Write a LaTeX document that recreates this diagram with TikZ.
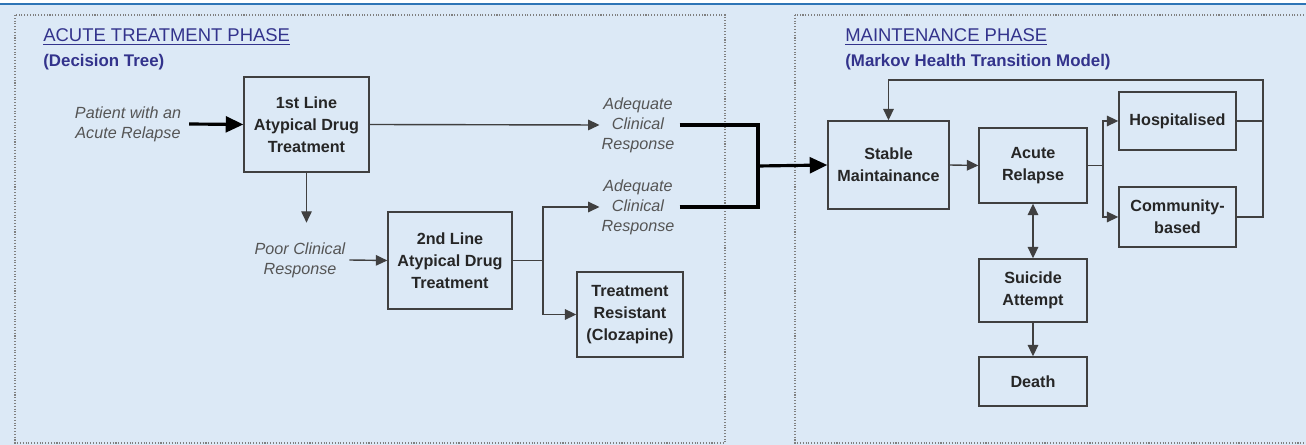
\documentclass[tikz,border=0pt]{standalone}
\usepackage{fontspec}
\setmainfont{Liberation Sans}
\usepackage{tikz}
\usetikzlibrary{arrows.meta, positioning}
\definecolor{paleblue}{RGB}{220, 233, 246}
\definecolor{topblue}{RGB}{46, 117, 182}
\definecolor{headblue}{RGB}{51, 51, 140}
\definecolor{linegray}{RGB}{64, 64, 64}
\definecolor{textgray}{RGB}{85, 85, 85}
\tikzset{
  phase/.style={
    draw=gray, densely dotted, fill=paleblue, line width=0.6pt
  },
  statebox/.style={
    draw=linegray, rectangle, fill=paleblue, line width=0.8pt,
    align=center, font=\fontsize{9.2}{12.5}\selectfont\bfseries,
    inner sep=2pt, text=black!85
  },
  outcome/.style={
    align=center, font=\fontsize{9.2}{11.4}\selectfont\itshape,
    text=textgray, inner sep=1pt
  },
  heading/.style={
    anchor=west, text=headblue, inner sep=0pt
  },
  arrow/.style={
    ->, >={Triangle[length=6.5pt, width=6pt]}, draw=linegray, line width=0.8pt
  },
  twoway/.style={
    <->, >={Triangle[length=6.5pt, width=6pt]}, draw=linegray, line width=0.8pt
  },
  heavy/.style={
    draw=black, line width=1.8pt % response lines
  },
  heavyarrow/.style={
    ->, >={Triangle[length=10pt, width=9pt]}, draw=black, line width=1.8pt
  }
}

\begin{document}
\begin{tikzpicture}[x=0.02cm, y=-0.02cm]
        \useasboundingbox (0,0) rectangle (1306,445);
        \fill[paleblue] (0,4) rectangle (1306,445);
        \draw[topblue, line width=1.5pt] (0,4) -- (1306,4);
        \draw[phase] (15,15) rectangle (725,443);
        \draw[phase] (795,15) rectangle (1320,443);

        \node[heading, font=\fontsize{10.5}{12}\selectfont] (acutetitle) at (43,37) {\underline{ACUTE TREATMENT PHASE}};
        \node[heading, font=\fontsize{9.6}{12}\selectfont\bfseries] (acutesub) at (43,62) {(Decision Tree)};
        \node[heading, font=\fontsize{10.5}{12}\selectfont] (maintitle) at (845,37) {\underline{MAINTENANCE PHASE}};
        \node[heading, font=\fontsize{9.6}{12}\selectfont\bfseries] (mainsub) at (845,62) {(Markov Health Transition Model)};

        \node[outcome] (patient) at (128,124) {Patient with an\\Acute Relapse};
        \node[statebox, minimum width=2.5cm, minimum height=1.9cm] (first) at (306.5,124.5) {1st Line\\Atypical Drug\\Treatment};
        \node[outcome] (adequateA) at (638,125) {Adequate\\Clinical\\Response};
        \node[outcome] (poor) at (300,260) {Poor Clinical\\Response};
        \node[statebox, minimum width=2.48cm, minimum height=1.94cm] (second) at (450,260.5) {2nd Line\\Atypical Drug\\Treatment};
        \node[outcome] (adequateB) at (638,207) {Adequate\\Clinical\\Response};
        \node[statebox, minimum width=2.12cm, minimum height=1.7cm] (resistant) at (630,314.5) {Treatment\\Resistant\\(Clozapine)};

        \node[statebox, minimum width=2.42cm, minimum height=1.76cm] (stable) at (888.5,165) {Stable\\Maintainance};
        \node[statebox, minimum width=2.16cm, minimum height=1.5cm] (relapse) at (1033,165.5) {Acute\\Relapse};
        \node[statebox, minimum width=2.34cm, minimum height=1.16cm] (hosp) at (1177.5,121) {Hospitalised};
        \node[statebox, minimum width=2.34cm, minimum height=1.2cm] (community) at (1177.5,217) {Community-\\based};
        \node[statebox, minimum width=2.16cm, minimum height=1.26cm] (suicide) at (1033,290.5) {Suicide\\Attempt};
        \node[statebox, minimum width=2.16cm, minimum height=0.98cm] (death) at (1033,381.5) {Death};

        \coordinate (join) at (758,166);
        \coordinate (split) at (543,260.5);
        \coordinate (fork) at (1103,165.5);
        \coordinate (back) at (1263,80);

        \draw[heavyarrow] (patient.east) ++(6,0) -- (first.west);
        \draw[arrow] (first.east) -- (adequateA.west);
        \draw[arrow] (first.south) -- ++(0,50);
        \draw[arrow] (poor.east) ++(2,0) -- (second.west);
        \draw[linegray, line width=0.8pt] (second.east) -- (split);
        \draw[arrow] (split) |- (adequateB.west);
        \draw[arrow] (split) |- (resistant.west);
        \draw[heavy] (adequateA.east) ++(3,0) -| (join);
        \draw[heavy] (adequateB.east) ++(3,0) -| (join);
        \draw[heavyarrow] (join) -- (stable.west);

        \draw[arrow] (stable.east) -- (relapse.west);
        \draw[linegray, line width=0.8pt] (relapse.east) -- (fork);
        \draw[arrow] (fork) |- (hosp.west);
        \draw[arrow] (fork) |- (community.west);
        \draw[linegray, line width=0.8pt] (hosp.east) -- (hosp.east -| back);
        \draw[arrow] (community.east) -| (back) -| (stable.north);
        \draw[twoway] (relapse.south) -- (suicide.north);
        \draw[arrow] (suicide.south) -- (death.north);
      \end{tikzpicture}
\end{document}
